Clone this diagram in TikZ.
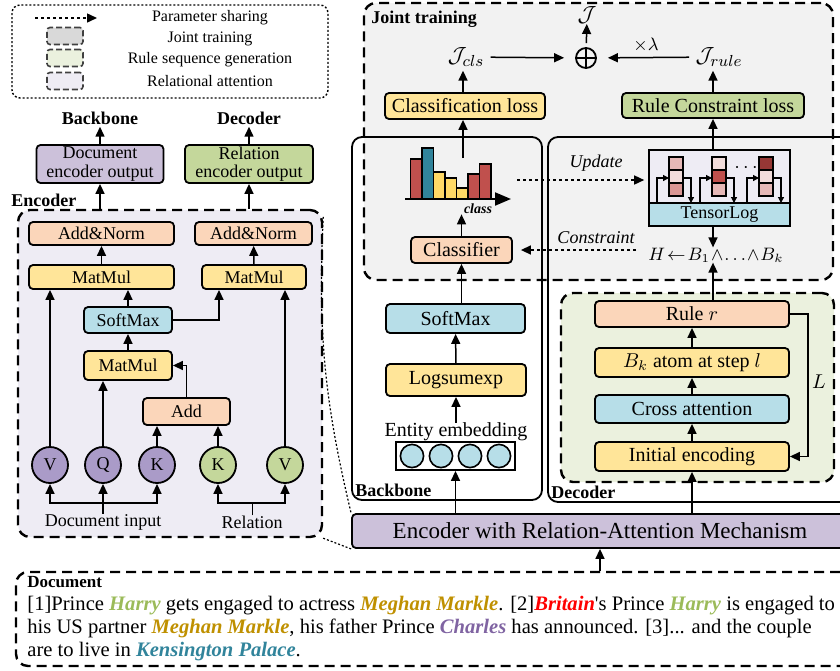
\documentclass[tikz,border=0pt]{standalone}
\usepackage{fontspec}
\setmainfont{Liberation Serif}
\usetikzlibrary{arrows.meta}
\definecolor{lav}{RGB}{204,193,218}
\definecolor{lavlight}{RGB}{238,236,244}
\definecolor{purp}{RGB}{170,155,200}
\definecolor{grn}{RGB}{196,215,155}
\definecolor{grnlight}{RGB}{235,241,222}
\definecolor{ylw}{RGB}{255,229,153}
\definecolor{pch}{RGB}{251,214,186}
\definecolor{blu}{RGB}{183,222,232}
\definecolor{gry}{RGB}{242,242,242}
\definecolor{gryd}{RGB}{217,217,217}
\definecolor{barred}{RGB}{192,80,77}
\definecolor{barteal}{RGB}{49,132,155}
\definecolor{baryel}{RGB}{255,217,102}
\definecolor{cella}{RGB}{242,220,219}
\definecolor{cellb}{RGB}{230,184,183}
\definecolor{cellc}{RGB}{218,150,148}
\definecolor{celld}{RGB}{192,80,77}
\definecolor{celle}{RGB}{150,55,53}
\definecolor{harry}{RGB}{155,187,89}
\definecolor{meghan}{RGB}{191,144,0}
\definecolor{charles}{RGB}{128,100,162}
\definecolor{palace}{RGB}{49,132,155}
\newcommand{\docent}[2]{\textcolor{#1}{\bfseries\itshape #2}}

\tikzset{
  box/.style={draw, rounded corners=2pt, line width=0.9pt, inner sep=0pt, align=center, font=\fontsize{9}{9.2}\selectfont},
  big/.style={font=\fontsize{10}{12}\selectfont},
  fpeach/.style={fill=pch},
  fyellow/.style={fill=ylw},
  fblue/.style={fill=blu},
  fgreen/.style={fill=grn},
  flav/.style={fill=lav},
  tok/.style={circle, draw, line width=0.9pt, minimum size=18pt, inner sep=0pt, font=\fontsize{9}{10}\selectfont},
  arr/.style={-{Triangle[length=5pt,width=4.5pt]}, line width=0.75pt},
  tip/.style={-{Triangle[length=3pt,width=3pt]}, line width=0.6pt},
  share/.style={arr, dash pattern=on 1.5pt off 1.5pt},
  panel/.style={draw, dash pattern=on 5pt off 3pt, line width=1.2pt, rounded corners=6pt, inner sep=0pt},
  frame/.style={draw, line width=0.9pt, rounded corners=5pt, inner sep=0pt},
  sample/.style={draw=black!75, dash pattern=on 3pt off 1.5pt, line width=0.8pt, rounded corners=1.5pt, minimum width=18pt, minimum height=8.5pt},
  head/.style={font=\bfseries\fontsize{9}{10}\selectfont, inner sep=0pt},
  lbl/.style={font=\fontsize{9}{10}\selectfont, inner sep=0pt},
  legtext/.style={font=\fontsize{8}{9}\selectfont, inner sep=0pt},
  note/.style={font=\itshape\fontsize{9}{10}\selectfont, inner sep=0pt}
}

\begin{document}
\begin{tikzpicture}[x=0.5pt,y=-0.5pt]
      \useasboundingbox (0,0) rectangle (840,670);

      \draw[line width=0.7pt, dash pattern=on 1pt off 1pt, rounded corners=4pt] (12,5) rectangle (328,98);
      \coordinate (ps1) at (35,18);
      \coordinate (ps2) at (97,18);
      \draw[share] (ps1) -- (ps2);
      \node [sample, fill=gryd] (lgj) at (65,36) {};
      \node [sample, fill=grnlight] (lgr) at (65,58) {};
      \node [sample, fill=lavlight] (lga) at (65,81) {};
      \node [legtext] (lt1) at (210,18) {Parameter sharing};
      \node [legtext] (lt2) at (210,39) {Joint training};
      \node [legtext] (lt3) at (210,60) {Rule sequence generation};
      \node [legtext] (lt4) at (210,81) {Relational attention};

      \node [head] (bbhead) at (100,118) {Backbone};
      \node [head] (dchead) at (249,118) {Decoder};
      \node [box, flav, minimum width=63.5pt, minimum height=19pt] (denc) at (100,164) {Document\\encoder output};
      \node [box, fgreen, minimum width=64pt, minimum height=19pt] (renc) at (249,164) {Relation\\encoder output};
      \node [head, anchor=west] (enchead) at (11,200) {Encoder};
      \node [panel, fill=lavlight, minimum width=152pt, minimum height=163.5pt] (encpanel) at (170,373.5) {};

      \node [box, fpeach, minimum width=72.5pt, minimum height=11.5pt] (an1) at (101.5,233.5) {Add\&Norm};
      \node [box, fpeach, minimum width=58.5pt, minimum height=11.5pt] (an2) at (253.5,233.5) {Add\&Norm};
      \node [box, fyellow, minimum width=72.5pt, minimum height=12pt] (mm1) at (101.5,277) {MatMul};
      \node [box, fyellow, minimum width=52pt, minimum height=12pt] (mm2) at (254,277) {MatMul};
      \node [box, fblue, minimum width=44pt, minimum height=13pt] (sm) at (128,320) {SoftMax};
      \node [box, fyellow, minimum width=44pt, minimum height=14.5pt] (mm3) at (128,365.5) {MatMul};
      \node [box, fpeach, minimum width=43.5pt, minimum height=13.5pt] (add) at (186.5,411.5) {Add};
      \node [tok, fill=purp] (vd) at (50,465) {V};
      \node [tok, fill=purp] (qd) at (103,465) {Q};
      \node [tok, fill=purp] (kd) at (157,465) {K};
      \node [tok, fill=grn] (kr) at (218,465) {K};
      \node [tok, fill=grn] (vr) at (285,465) {V};
      \node [lbl] (din) at (103,522) {Document input};
      \node [lbl] (rel) at (252,522) {Relation};
      \coordinate (dbus) at (103,503);
      \coordinate (rbus) at (252,503);

      \foreach \from/\to in {vd/mm1,qd/mm3,kd/add,kr/add,vr/mm2,sm/mm1}
        \draw[arr] (\from) -- (\from |- \to.south);
      \foreach \from/\to in {mm3/sm,mm1/an1,mm2/an2}
        \draw[arr] (\from) -- (\to);
      \draw[arr] (add.north) |- (mm3.east);
      \draw[arr] (sm.east) -| ([xshift=-17.5pt]mm2.south);
      \draw[arr] (din.north) -- (qd);
      \draw[arr] (dbus) -| (vd);
      \draw[arr] (dbus) -| (kd);
      \draw (rel.north) -- (rbus);
      \draw[arr] (rbus) -| (kr);
      \draw[arr] (rbus) -| (vr);
      \draw[arr] (denc |- encpanel.north) -- (denc);
      \draw[arr] (renc |- encpanel.north) -- (renc);
      \draw[arr, shorten >=1pt] (denc) -- (bbhead);
      \draw[arr, shorten >=1pt] (renc) -- (dchead);

      \node [fill=gry, rounded corners=6pt, minimum width=234.5pt, minimum height=138.5pt] (joint) at (598.5,141.5) {};
      \node [frame, minimum width=95pt, minimum height=181.5pt] (bbbox) at (447,318.5) {};
      \node [frame, minimum width=151pt, minimum height=182.5pt] (decbox) at (699,319.5) {};
      \node [panel, minimum width=234.5pt, minimum height=138.5pt] (jointedge) at (598.5,141.5) {};
      \node [head, anchor=west] (jthead) at (371,19) {Joint training};

      \node [inner sep=0pt, font=\fontsize{11}{12}\selectfont] (jall) at (587,15) {$\mathcal{J}$};
      \node [circle, draw, line width=0.9pt, minimum size=10pt, inner sep=0pt] (plus) at (586,58) {};
      \draw[line width=0.9pt] (plus.north) -- (plus.south) (plus.west) -- (plus.east);
      \node [inner sep=0pt, font=\fontsize{11}{12}\selectfont] (jcls) at (466,57) {$\mathcal{J}_{cls}$};
      \node [inner sep=0pt, font=\fontsize{11}{12}\selectfont] (jrule) at (719,57) {$\mathcal{J}_{rule}$};
      \node [lbl] (times) at (646,45) {$\times\lambda$};
      \node [box, big, fyellow, minimum width=80pt, minimum height=13pt] (clsloss) at (465,106) {Classification loss};
      \node [box, big, fgreen, minimum width=91pt, minimum height=12.5pt] (ruleloss) at (713,105.5) {Rule Constraint loss};
      \coordinate (chart) at (463,158);
      \draw[arr, shorten <=2pt] (plus) -- (jall);
      \draw[arr, shorten >=5.5pt, shorten <=3pt] (jcls) -- (plus);
      \draw[arr, shorten >=5.5pt, shorten <=3pt] (jrule) -- (plus);
      \draw[arr, shorten >=2pt] (chart |- clsloss.north) -- (chart |- jcls.south);
      \draw[arr, shorten >=2pt] (ruleloss) -- (ruleloss |- jrule.south);

      \foreach \bx/\bt/\bc in {410.5/159/barred,422/148/barteal,433.5/172/baryel,445/178/baryel,456.5/188/baryel,468/174/barred,479.5/164/barred}
        \draw[fill=\bc, line width=0.8pt] (\bx,199) rectangle ++(11.5,\bt-199);
      \draw[line width=1pt, -{Triangle[length=8pt,width=6.5pt]}] (405,199) -- (511,199);
      \node [inner sep=0pt, font=\bfseries\itshape\fontsize{7}{8}\selectfont] (clslbl) at (478,209) {class};
      \node [box, big, fpeach, minimum width=50.5pt, minimum height=13pt] (clf) at (461.5,250) {Classifier};
      \draw[arr] (chart) -- (chart |- clsloss.south);
      \draw[arr] (clf) -- (clf |- clslbl.south);

      \node [draw, line width=0.8pt, fill=lavlight, minimum width=70.5pt, minimum height=38pt, inner sep=0pt] (tlbox) at (719.5,188) {};
      \node [draw, line width=0.8pt, fill=blu, minimum width=70.5pt, minimum height=11.5pt, inner sep=0pt, font=\fontsize{9}{10}\selectfont] (tl) at (719.5,214.5) {TensorLog};
      \foreach \sx/\ca/\cb/\cc in {669/cellb/cella/cellc,712/cella/celld/cellb,759/celle/cella/cellb} {
        \draw[fill=\ca, line width=0.6pt] (\sx,157) rectangle ++(14,13);
        \draw[fill=\cb, line width=0.6pt] (\sx,170) rectangle ++(14,13);
        \draw[fill=\cc, line width=0.6pt] (\sx,183) rectangle ++(14,13);
        \draw[tip] (\sx-12,203) |- (\sx,178);
        \draw[tip] (\sx+14,178) -| (\sx+22,203);
      }
      \node [inner sep=0pt, font=\bfseries] (dots) at (746,168) {$\cdots$};
      \node [inner sep=0pt, font=\fontsize{9}{11}\selectfont] (formula) at (716,255) {$H\!\leftarrow\! B_{1}\!\wedge\!\ldots\!\wedge\! B_{k}$};
      \coordinate (chartR) at (517,180);
      \draw[share, shorten >=2pt] (chartR) -- (chartR -| tlbox.west);
      \draw[share, shorten >=4pt, shorten <=6pt] (formula.west |- clf) -- (clf.east);
      \node [note] (upd) at (596,163) {Update};
      \node [note] (cons) at (596,238) {Constraint};
      \draw[arr] (ruleloss |- tlbox.north) -- (ruleloss);
      \draw[arr] (ruleloss |- tl.south) -- (ruleloss |- formula.north);

      \node [box, big, fblue, minimum width=69.5pt, minimum height=14.5pt] (bsm) at (455.5,318.5) {SoftMax};
      \node [box, big, fyellow, minimum width=70pt, minimum height=16pt] (lse) at (456,380) {Logsumexp};
      \node [inner sep=0pt, font=\fontsize{10}{12}\selectfont] (entlbl) at (456,432) {Entity embedding};
      \node [draw, line width=0.9pt, fill=white, minimum width=59.5pt, minimum height=14pt, inner sep=0pt] (emb) at (455.5,456) {};
      \foreach \cx in {412,441,470,499}
        \draw[fill=blu, line width=0.8pt] (\cx,456) circle (5.8pt);
      \node [head, anchor=west] (bbfoot) at (355,490) {Backbone};
      \draw[arr] (lse) -- (bsm);
      \draw[arr] (entlbl) -- (lse);
      \draw[arr] (clf |- bsm.north) -- (clf);

      \node [panel, fill=grnlight, minimum width=136.5pt, minimum height=94.5pt] (decpanel) at (697.5,387.5) {};
      \node [box, big, fpeach, minimum width=97pt, minimum height=13pt] (rule) at (692,314) {Rule $r$};
      \node [box, big, fyellow, minimum width=97pt, minimum height=14.5pt] (bk) at (692,362.5) {$B_k$ atom at step $l$};
      \node [box, big, fblue, minimum width=97pt, minimum height=14pt] (ca) at (692,409) {Cross attention};
      \node [box, big, fyellow, minimum width=97pt, minimum height=14.5pt] (ie) at (692,456.5) {Initial encoding};
      \node [inner sep=0pt, font=\fontsize{10}{12}\selectfont] (loopl) at (819,382) {$L$};
      \node [head, anchor=west] (decfoot) at (551,492) {Decoder};
      \foreach \from/\to in {ie/ca,ca/bk,bk/rule}
        \draw[arr] (\from) -- (\to);
      \draw[arr] (rule.east) -- ++(18,0) |- (ie.east);
      \draw[arr] (ruleloss |- rule.north) -- (ruleloss |- formula.south);

      \node [box, flav, minimum width=248pt, minimum height=17pt, font=\fontsize{11.5}{13}\selectfont] (mech) at (600,531) {Encoder with Relation-Attention Mechanism};
      \draw[arr] (emb |- mech.north) -- (emb);
      \draw[arr] (ie |- mech.north) -- (ie);
      \draw[line width=0.6pt, dash pattern=on 1pt off 1pt] ([yshift=-4pt]encpanel.north east) to[bend right=8] (mech.north west);
      \draw[line width=0.6pt, dash pattern=on 1pt off 1pt] (encpanel.south east) -- (mech.south west);

      \node [panel, minimum width=418pt, minimum height=47pt] (docbox) at (434,619) {};
      \node [anchor=north west, inner sep=0pt, align=left, font=\fontsize{10.3}{11.5}\selectfont] (doc) at (27,576) {{\bfseries\fontsize{8.5}{10}\selectfont Document}\\{}[1]Prince \docent{harry}{Harry} gets engaged to actress \docent{meghan}{Meghan Markle}. [2]\docent{red}{Britain}\textquotesingle s Prince \docent{harry}{Harry} is engaged to\\his US partner \docent{meghan}{Meghan Markle}, his father Prince \docent{charles}{Charles} has announced. [3]... and the couple\\are to live in \docent{palace}{Kensington Palace}.};
      \draw[arr] (mech |- docbox.north) -- (mech);
    \end{tikzpicture}
\end{document}
